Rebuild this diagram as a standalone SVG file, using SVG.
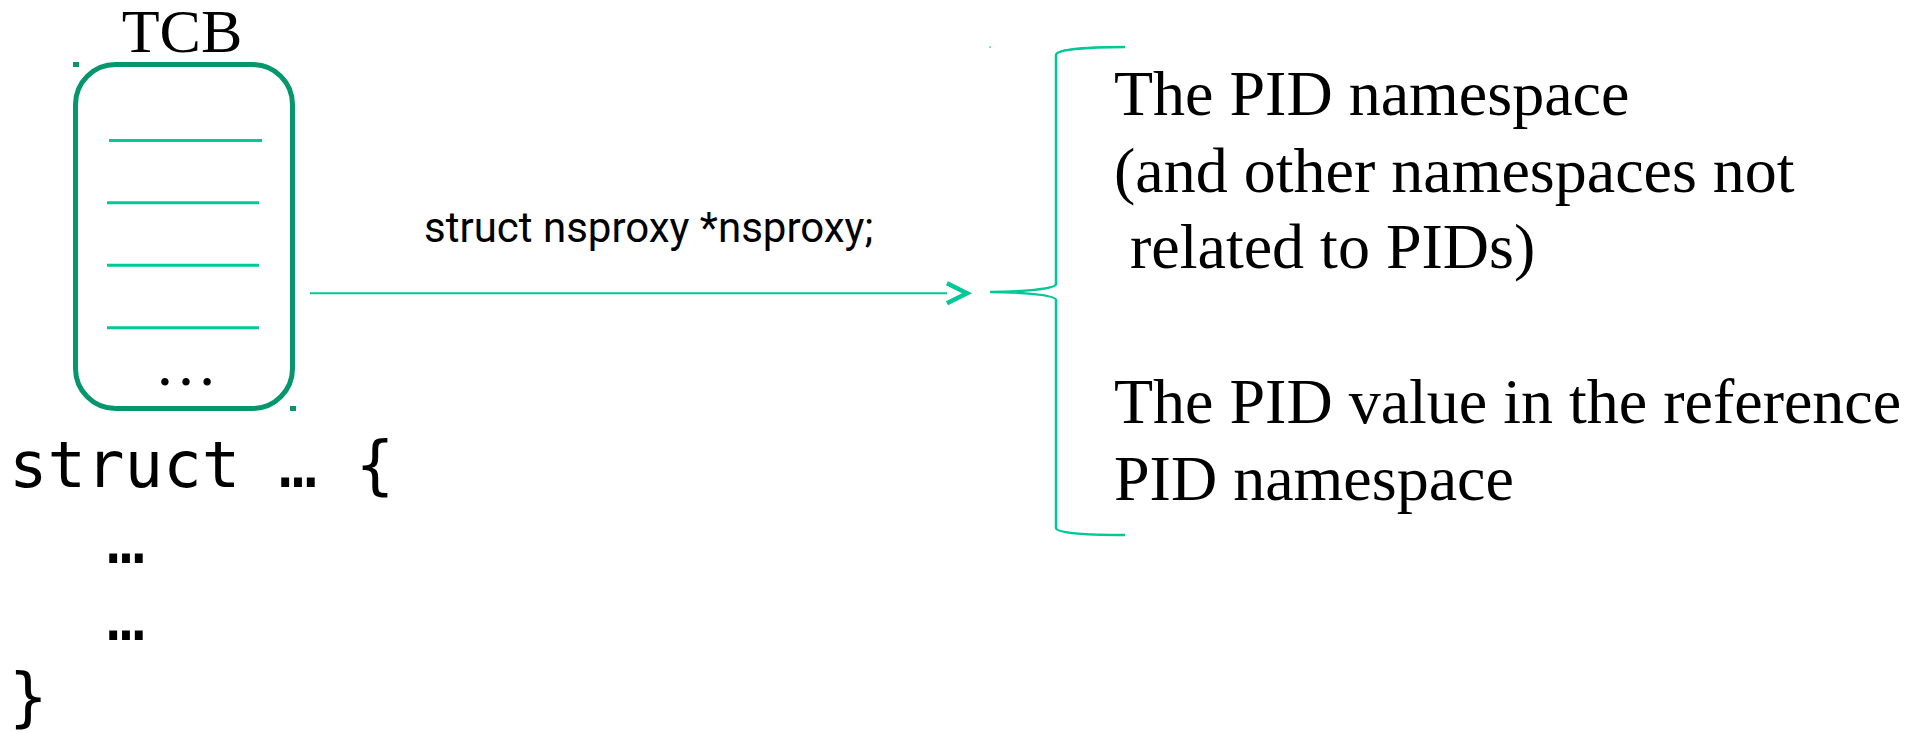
<svg xmlns="http://www.w3.org/2000/svg" width="1923" height="733" viewBox="0 0 1923 733">
<style>
.serif{font-family:"Liberation Serif","Times New Roman",serif;fill:#000}
.mono{font-family:"DejaVu Sans Mono",monospace;font-size:64px;fill:#000}
.sans{font-family:Roboto,"Liberation Sans",sans-serif;font-size:42px;fill:#000}
.field{stroke:#00C896;stroke-width:3;fill:none}
.conn{stroke:#00C896;fill:none}
.handle{fill:#05966E}
</style>
<defs>
<marker id="chev" markerUnits="userSpaceOnUse" markerWidth="30" markerHeight="30" refX="2" refY="12" orient="auto" overflow="visible">
<path d="M2,2 L22,12 L2,22" fill="none" stroke="#00C896" stroke-width="4.5"/>
</marker>
</defs>
<rect width="1923" height="733" fill="#fff"/>
<g id="tcb">
<text class="serif" x="182" y="52" font-size="62" text-anchor="middle">TCB</text>
<rect x="75.5" y="64.5" width="217" height="344" rx="40" fill="none" stroke="#05966E" stroke-width="5"/>
<rect class="handle" x="73" y="62" width="6" height="5"/>
<rect class="handle" x="290" y="406" width="6" height="5"/>
<line class="field" x1="109" y1="140.5" x2="262" y2="140.5"/>
<line class="field" x1="107" y1="202.7" x2="259" y2="202.7"/>
<line class="field" x1="107" y1="265.3" x2="259" y2="265.3"/>
<line class="field" x1="107" y1="327.7" x2="259" y2="327.7"/>
<text class="serif" x="186" y="385" font-size="63" text-anchor="middle">…</text>
</g>
<g id="struct-code">
<text class="mono" x="9" y="487">struct … {</text>
<text class="mono" x="126" y="563" text-anchor="middle">…</text>
<text class="mono" x="126" y="640" text-anchor="middle">…</text>
<text class="mono" x="9" y="719">}</text>
</g>
<g id="connectors">
<line class="conn" x1="310" y1="293.3" x2="947" y2="293.3" stroke-width="2" marker-end="url(#chev)"/>
<text class="sans" x="424" y="242">struct nsproxy *nsproxy;</text>
<path class="conn" stroke-width="2.5" d="M1125,47 C1085,47 1056,50 1056,55 L1056,284 C1056,289 1020,292 990,292 C1020,292 1056,295 1056,300 L1056,528 C1056,533 1085,535 1125,535"/>
<rect x="989" y="46" width="2" height="2" fill="#7FE3C9"/>
</g>
<g id="description">
<text class="serif" font-size="64" x="1114" y="115">The PID namespace</text>
<text class="serif" font-size="64" x="1114" y="192">(and other namespaces not</text>
<text class="serif" font-size="64" x="1114" y="268">&#160;related to PIDs)</text>
<text class="serif" font-size="64" x="1114" y="423">The PID value in the reference</text>
<text class="serif" font-size="64" x="1114" y="500">PID namespace</text>
</g>
</svg>
